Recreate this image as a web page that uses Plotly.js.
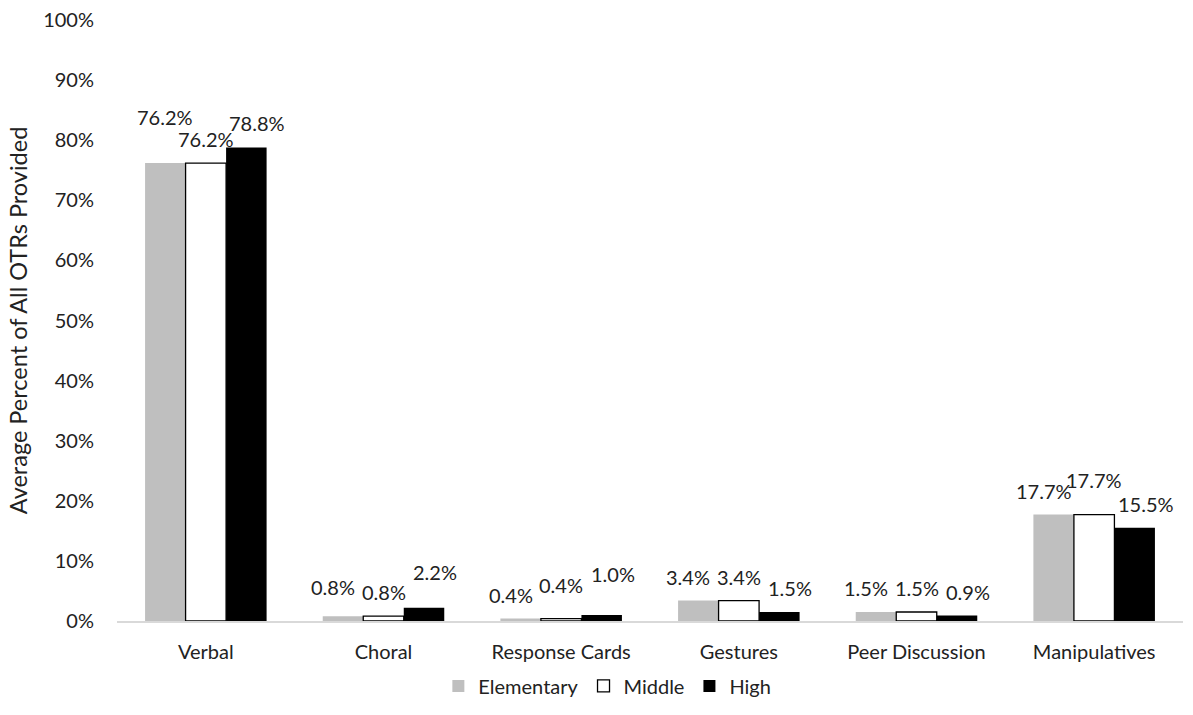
<!DOCTYPE html>
<html>
<head>
<meta charset="utf-8">
<script src="https://cdn.plot.ly/plotly-3.0.1.min.js"></script>
<style>html,body{margin:0;padding:0;background:#fff}#chart{width:1193px;height:715px}</style>
</head>
<body>
<div id="chart"></div>
<script>
const categories = ["Verbal", "Choral", "Response Cards", "Gestures", "Peer Discussion", "Manipulatives"];
const elementary = [76.2, 0.8, 0.4, 3.4, 1.5, 17.7];
const middle = [76.2, 0.8, 0.4, 3.4, 1.5, 17.7];
const high = [78.8, 2.2, 1.0, 1.5, 0.9, 15.5];
const seriesNames = ["Elementary", "Middle", "High"];
const yTickVals = [0, 10, 20, 30, 40, 50, 60, 70, 80, 90, 100];
const yTickText = ["0%", "10%", "20%", "30%", "40%", "50%", "60%", "70%", "80%", "90%", "100%"];

const FONT = "Lato, 'Open Sans', sans-serif";
const TXT = "#222";
const series = [elementary, middle, high];
const styles = [
  {color: "#bfbfbf", line: {color: "#bfbfbf", width: 0}},
  {color: "#ffffff", line: {color: "#000000", width: 1.3}},
  {color: "#000000", line: {color: "#000000", width: 0}}
];

const traces = series.map((vals, i) => ({
  type: "bar",
  name: seriesNames[i],
  x: categories,
  y: vals,
  marker: styles[i],
  hoverinfo: "skip"
}));

// data-label styling (pixel nudges, as placed in the original figure)
const barPx = 40.5;
const labelBase = 24;
const labelDx = [-10, 0, 11];
const labelLift = [
  [22, 5, 0, 0, 0, 0],
  [0, 0, 10, 0, 0, 11],
  [0, 12, 17, 0, 0, 0]
];
const annotations = [];
series.forEach((vals, i) => {
  vals.forEach((v, j) => {
    annotations.push({
      x: categories[j], y: v, xref: "x", yref: "y",
      text: v.toFixed(1) + "%",
      showarrow: false,
      xshift: (i - 1) * barPx + (j === 0 && i === 0 ? 0 : labelDx[i]),
      yshift: labelBase + labelLift[i][j],
      yanchor: "middle", xanchor: "center",
      font: {family: FONT, size: 20, color: TXT}
    });
  });
});

const layout = {
  width: 1193, height: 715,
  margin: {l: 117, r: 10, t: 20, b: 91},
  paper_bgcolor: "#fff", plot_bgcolor: "#fff",
  barmode: "group", bargap: 0.316, bargroupgap: 0,
  font: {family: FONT, size: 20, color: TXT},
  showlegend: true,
  legend: {orientation: "h", x: 0.46, xanchor: "center", y: -0.108, yanchor: "middle",
           font: {family: FONT, size: 20, color: TXT}, traceorder: "normal", itemwidth: 30},
  xaxis: {
    type: "category", showgrid: false, zeroline: false,
    showline: true, linecolor: "#d9d9d9", linewidth: 1.5,
    ticks: "", ticklabelstandoff: 12,
    tickfont: {family: FONT, size: 20, color: TXT}
  },
  yaxis: {
    range: [0, 100], showgrid: false, zeroline: false, showline: false,
    tickvals: yTickVals, ticktext: yTickText, ticks: "", ticklabelstandoff: 22,
    tickfont: {family: FONT, size: 20, color: TXT},
    title: {text: "Average Percent of All OTRs Provided", font: {family: FONT, size: 23.5, color: TXT}, standoff: 8}
  },
  annotations: annotations
};

Plotly.newPlot("chart", traces, layout, {displayModeBar: false, staticPlot: true});
</script>
</body>
</html>
